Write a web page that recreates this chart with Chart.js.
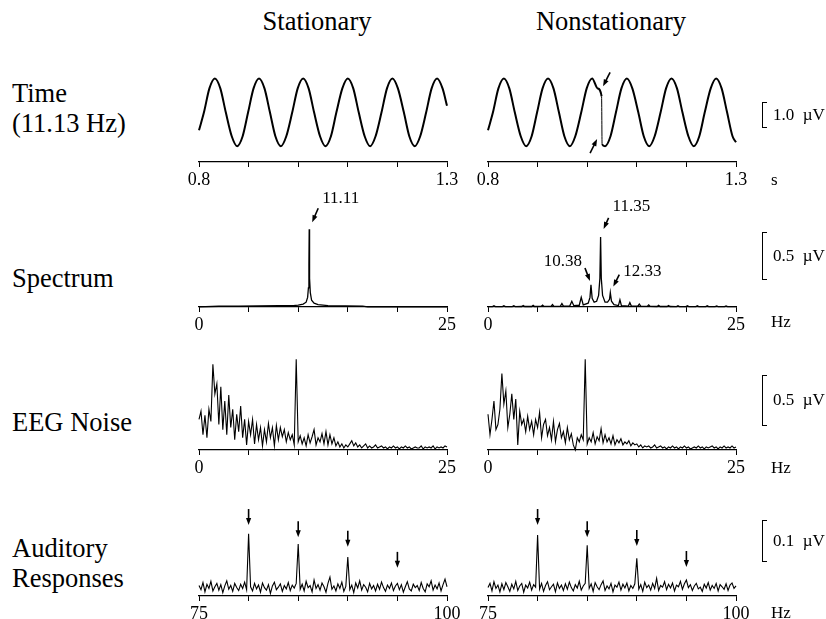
<!DOCTYPE html>
<html>
<head>
<meta charset="utf-8">
<script src="https://cdn.jsdelivr.net/npm/chart.js@4"></script>
<style>
body { margin:0; background:#fff; overflow:hidden; }
#fig { position:relative; width:826px; height:619px; font-family:'Liberation Serif','Times New Roman',serif; color:#000; }
#fig canvas { position:absolute; }
.lbl { position:absolute; left:12px; font-size:26.5px; line-height:30px; white-space:nowrap; }
.head { position:absolute; top:6px; font-size:26.5px; line-height:30px; transform:translateX(-50%); white-space:nowrap; }
.unit { position:absolute; left:771px; font-size:17px; line-height:20px; white-space:nowrap; }
.bar { position:absolute; left:762px; width:5px; box-sizing:border-box; border:1.3px solid #000; border-right:none; }
.sv { position:absolute; left:773px; font-size:17px; line-height:20px; white-space:nowrap; }
</style>
</head>
<body>
<div id="fig">
  <div class="head" style="left:317px">Stationary</div>
  <div class="head" style="left:611px">Nonstationary</div>

  <div class="lbl" style="top:78px">Time<br>(11.13 Hz)</div>
  <div class="lbl" style="top:263px">Spectrum</div>
  <div class="lbl" style="top:407px">EEG Noise</div>
  <div class="lbl" style="top:533px">Auditory<br>Responses</div>

  <canvas id="timeS" width="308" height="128" style="left:169px;top:62px"></canvas>
  <canvas id="timeN" width="308" height="128" style="left:458px;top:62px"></canvas>
  <canvas id="specS" width="308" height="150" style="left:169px;top:185px"></canvas>
  <canvas id="specN" width="308" height="150" style="left:458px;top:185px"></canvas>
  <canvas id="eegS" width="308" height="138" style="left:169px;top:340px"></canvas>
  <canvas id="eegN" width="308" height="138" style="left:458px;top:340px"></canvas>
  <canvas id="audS" width="308" height="127" style="left:169px;top:492px"></canvas>
  <canvas id="audN" width="308" height="127" style="left:458px;top:492px"></canvas>

  <div class="bar" style="top:102px;height:26px"></div>
  <div class="sv" style="top:105px">1.0&nbsp;&nbsp;µV</div>
  <div class="unit" style="top:170px">s</div>

  <div class="bar" style="top:232px;height:48px"></div>
  <div class="sv" style="top:246px">0.5&nbsp;&nbsp;µV</div>
  <div class="unit" style="top:312px">Hz</div>

  <div class="bar" style="top:375px;height:51px"></div>
  <div class="sv" style="top:390px">0.5&nbsp;&nbsp;µV</div>
  <div class="unit" style="top:458px">Hz</div>

  <div class="bar" style="top:520px;height:42px"></div>
  <div class="sv" style="top:531px">0.1&nbsp;&nbsp;µV</div>
  <div class="unit" style="top:603px">Hz</div>
</div>
<script>
// ---- time domain, 11.13 Hz tone (s, µV) ----
const timeStatT = [0.800, 0.810, 0.821, 0.832, 0.843, 0.854, 0.866, 0.877, 0.888, 0.899,
  0.910, 0.921, 0.932, 0.943, 0.954, 0.965, 0.976, 0.988, 0.999, 1.010,
  1.021, 1.032, 1.044, 1.055, 1.066, 1.077, 1.089, 1.100, 1.111, 1.122,
  1.134, 1.145, 1.156, 1.168, 1.179, 1.190, 1.201, 1.213, 1.224, 1.235,
  1.246, 1.258, 1.269, 1.280, 1.291, 1.300];
const timeStatV = [-0.69, 0, 0.92, 1.3, 0.92, 0, -0.92, -1.3, -0.92, 0,
  0.92, 1.3, 0.92, 0, -0.92, -1.3, -0.92, 0, 0.92, 1.3,
  0.92, 0, -0.92, -1.3, -0.92, 0, 0.92, 1.3, 0.92, 0,
  -0.92, -1.3, -0.92, 0, 0.92, 1.3, 0.92, 0, -0.92, -1.3,
  -0.92, 0, 0.92, 1.3, 0.92, 0.25];
const timeNonT = [0.800, 0.810, 0.821, 0.832, 0.843, 0.854, 0.866, 0.877, 0.888, 0.899,
  0.910, 0.921, 0.932, 0.943, 0.954, 0.965, 0.976, 0.988, 0.999, 1.010,
  1.021, 1.029, 1.030, 1.036, 1.047, 1.058, 1.069, 1.080, 1.091, 1.103,
  1.114, 1.125, 1.136, 1.148, 1.159, 1.170, 1.181, 1.192, 1.204, 1.215,
  1.226, 1.237, 1.249, 1.260, 1.271, 1.282, 1.293, 1.300];
const timeNonV = [-0.69, 0, 0.92, 1.3, 0.92, 0, -0.92, -1.3, -0.92, 0,
  0.92, 1.3, 0.92, 0, -0.92, -1.3, -0.92, 0, 0.92, 1.3,
  0.92, 0.62, -1.22, -1.3, -0.92, 0, 0.92, 1.3, 0.92, 0,
  -0.92, -1.3, -0.92, 0, 0.92, 1.3, 0.92, 0, -0.92, -1.3,
  -0.92, 0, 0.92, 1.3, 0.92, 0, -0.92, -1.15];
const jumpAt = 1.029; // phase jump of the nonstationary tone

// ---- spectra (Hz, µV) ----
const specStatF = [0, 2, 4, 6, 8, 9.5, 10.0, 10.5, 10.8, 10.95, 11.03, 11.08, 11.11,
  11.13, 11.16, 11.22, 11.35, 11.6, 12.0, 13.0, 16.5, 17.0, 25];
const specStatA = [0.002, 0.008, 0.01, 0.012, 0.013, 0.015, 0.02, 0.03, 0.05, 0.1, 0.2, 0.45, 0.81,
  0.54, 0.3, 0.15, 0.07, 0.04, 0.025, 0.015, 0.01, 0.002, 0.002];

const specNonF = [0, 0.45, 0.6, 0.75, 1.45, 1.6, 1.75, 2.45, 2.6, 2.75,
  3.4, 3.55, 3.7, 4.4, 4.55, 4.7, 5.35, 5.5, 5.65, 6.35, 6.5, 6.65,
  7.3, 7.45, 7.6, 8.25, 8.45, 8.65, 9.2, 9.4, 9.6,
  10.1, 10.28, 10.38, 10.5, 10.7, 10.95, 11.15, 11.28, 11.35, 11.42, 11.55,
  11.8, 12.05, 12.25, 12.33, 12.45, 12.7,
  13.15, 13.3, 13.45, 14.15, 14.3, 14.45, 15.1, 15.25, 15.4, 16.05, 16.2, 16.35,
  17.05, 17.2, 17.35, 18.05, 18.2, 18.35, 19.0, 19.15, 19.3, 19.95, 20.1, 20.25,
  20.95, 21.1, 21.25, 21.95, 22.1, 22.25, 22.9, 23.05, 23.2, 23.85, 24.0, 24.15, 25];
const specNonA = [0.003, 0.004, 0.012, 0.004, 0.004, 0.012, 0.004, 0.004, 0.014, 0.004,
  0.005, 0.015, 0.005, 0.005, 0.017, 0.005, 0.006, 0.02, 0.006, 0.007, 0.025, 0.007,
  0.009, 0.035, 0.009, 0.012, 0.06, 0.014, 0.018, 0.1, 0.022,
  0.04, 0.1, 0.23, 0.09, 0.05, 0.06, 0.12, 0.3, 0.73, 0.3, 0.12,
  0.05, 0.05, 0.08, 0.15, 0.06, 0.025,
  0.015, 0.075, 0.015, 0.01, 0.045, 0.01, 0.008, 0.03, 0.008, 0.006, 0.022, 0.006,
  0.005, 0.018, 0.005, 0.005, 0.016, 0.005, 0.004, 0.014, 0.004, 0.004, 0.013, 0.004,
  0.004, 0.012, 0.004, 0.004, 0.012, 0.004, 0.004, 0.011, 0.004, 0.004, 0.011, 0.004, 0.003];

// ---- EEG noise, 0 to 25 Hz every 0.2 Hz (µV) ----
const eegStart = 0, eegStep = 0.2;
const eegStat = [0.30, 0.38, 0.15, 0.34, 0.12, 0.40,
  0.28, 0.84, 0.55, 0.65, 0.25,
  0.62, 0.20, 0.48, 0.15, 0.54,
  0.22, 0.40, 0.10, 0.35, 0.18,
  0.43, 0.12, 0.30, 0.05, 0.28,
  0.15, 0.30, 0.06, 0.25, 0.10,
  0.22, 0.04, 0.20, 0.08, 0.26,
  0.12, 0.22, 0.04, 0.24, 0.10,
  0.22, 0.13, 0.20, 0.08, 0.17,
  0.10, 0.15, 0.05, 0.89, 0.08,
  0.14, 0.06, 0.12, 0.04, 0.15,
  0.07, 0.13, 0.20, 0.05, 0.12,
  0.08, 0.16, 0.06, 0.18, 0.05,
  0.15, 0.06, 0.12, 0.04, 0.08,
  0.03, 0.06, 0.02, 0.05, 0.03,
  0.06, 0.09, 0.04, 0.07, 0.03,
  0.05, 0.02, 0.04, 0.06, 0.02,
  0.04, 0.02, 0.03, 0.05, 0.02,
  0.03, 0.04, 0.02, 0.03, 0.01,
  0.03, 0.02, 0.04, 0.02, 0.03,
  0.01, 0.03, 0.02, 0.04, 0.02,
  0.03, 0.01, 0.02, 0.03, 0.02,
  0.02, 0.04, 0.01, 0.03, 0.02,
  0.03, 0.02, 0.04, 0.01, 0.03,
  0.02, 0.03, 0.02, 0.04, 0.03];
const eegNon = [0.35, 0.15, 0.30, 0.48, 0.20, 0.25,
  0.40, 0.75, 0.45, 0.58, 0.22,
  0.35, 0.55, 0.30, 0.50, 0.05,
  0.38, 0.25, 0.30, 0.18, 0.33,
  0.20, 0.28, 0.15, 0.30, 0.22,
  0.37, 0.12, 0.25, 0.30, 0.14,
  0.22, 0.10, 0.28, 0.08, 0.20,
  0.26, 0.12, 0.18, 0.07, 0.22,
  0.10, 0.16, 0.05, 0.00, 0.12,
  0.08, 0.15, 0.10, 0.89, 0.06,
  0.12, 0.08, 0.17, 0.06, 0.13,
  0.09, 0.21, 0.07, 0.15, 0.08,
  0.12, 0.06, 0.14, 0.05, 0.10,
  0.07, 0.11, 0.05, 0.08, 0.06,
  0.09, 0.04, 0.07, 0.05, 0.06,
  0.03, 0.05, 0.02, 0.04, 0.03,
  0.04, 0.02, 0.03, 0.05, 0.02,
  0.03, 0.04, 0.02, 0.03, 0.01,
  0.03, 0.02, 0.04, 0.02, 0.03,
  0.01, 0.03, 0.02, 0.04, 0.02,
  0.03, 0.01, 0.02, 0.03, 0.02,
  0.04, 0.02, 0.03, 0.01, 0.03,
  0.02, 0.03, 0.04, 0.02, 0.03,
  0.01, 0.03, 0.02, 0.04, 0.02,
  0.03, 0.02, 0.04, 0.02, 0.03];

// ---- auditory responses, 75 to 100 Hz every 0.2 Hz (µV) ----
const audStart = 75, audStep = 0.2;
const audStat = [0.025, 0.015, 0.032, 0.010, 0.028, 0.018, 0.035, 0.012, 0.022, 0.030,
  0.014, 0.027, 0.008, 0.024, 0.036, 0.016, 0.025, 0.011, 0.030, 0.020,
  0.013, 0.028, 0.018, 0.033, 0.015, 0.148, 0.022, 0.012, 0.030, 0.017,
  0.026, 0.009, 0.031, 0.020, 0.014, 0.027, 0.006, 0.024, 0.033, 0.015,
  0.021, 0.029, 0.011, 0.025, 0.017, 0.032, 0.013, 0.026, 0.019, 0.030,
  0.124, 0.016, 0.028, 0.012, 0.035, 0.020, 0.025, 0.010, 0.038, 0.018,
  0.027, 0.014, 0.031, 0.022, 0.009, 0.030, 0.045, 0.016, 0.024, 0.012,
  0.029, 0.018, 0.033, 0.011, 0.023, 0.093, 0.015, 0.026, 0.008, 0.031,
  0.019, 0.036, 0.014, 0.027, 0.021, 0.010, 0.030, 0.017, 0.025, 0.012,
  0.028, 0.016, 0.033, 0.020, 0.011, 0.026, 0.018, 0.031, 0.013, 0.024,
  0.030, 0.015, 0.027, 0.009, 0.022, 0.034, 0.017, 0.012, 0.028, 0.020,
  0.025, 0.013, 0.032, 0.018, 0.010, 0.029, 0.022, 0.036, 0.014, 0.026,
  0.017, 0.031, 0.012, 0.027, 0.040, 0.022];
const audNon = [0.020, 0.030, 0.012, 0.034, 0.018, 0.026, 0.010, 0.029, 0.015, 0.032,
  0.022, 0.011, 0.028, 0.017, 0.035, 0.013, 0.024, 0.030, 0.009, 0.026,
  0.019, 0.033, 0.014, 0.027, 0.021, 0.145, 0.016, 0.030, 0.011, 0.025,
  0.034, 0.015, 0.022, 0.028, 0.010, 0.031, 0.018, 0.026, 0.013, 0.029,
  0.016, 0.033, 0.020, 0.012, 0.027, 0.019, 0.035, 0.014, 0.024, 0.030,
  0.121, 0.018, 0.029, 0.011, 0.032, 0.022, 0.015, 0.027, 0.036, 0.013,
  0.024, 0.017, 0.030, 0.010, 0.026, 0.021, 0.033, 0.014, 0.028, 0.019,
  0.031, 0.012, 0.025, 0.018, 0.029, 0.090, 0.016, 0.027, 0.011, 0.033,
  0.020, 0.026, 0.014, 0.030, 0.018, 0.042, 0.013, 0.025, 0.021, 0.034,
  0.015, 0.028, 0.019, 0.031, 0.012, 0.026, 0.022, 0.035, 0.016, 0.029,
  0.038, 0.020, 0.027, 0.013, 0.024, 0.030, 0.017, 0.021, 0.011, 0.028,
  0.019, 0.032, 0.014, 0.025, 0.018, 0.030, 0.012, 0.027, 0.022, 0.016,
  0.029, 0.013, 0.026, 0.031, 0.018, 0.024];

// tick labels shown at the two ends of each axis
const timeTicks = ['0.8', '1.3'];
const specTicks = ['0', '25'];
const audTicks = ['75', '100'];

Chart.defaults.font.family = "'Liberation Serif', 'Times New Roman', serif";
Chart.defaults.color = '#000';

function pairs(xs, ys) { return xs.map((x, i) => ({ x: x, y: ys[i] })); }
function grid(start, step, ys) { return ys.map((y, i) => ({ x: start + i * step, y: y })); }

function drawArrow(ctx, x1, y1, x2, y2) {
  const a = Math.atan2(y2 - y1, x2 - x1), hl = 7, hw = 2.6;
  const c = Math.cos(a), s = Math.sin(a);
  ctx.beginPath();
  ctx.moveTo(x1, y1);
  ctx.lineTo(x2 - hl * c * 0.7, y2 - hl * s * 0.7);
  ctx.lineWidth = 1.6;
  ctx.stroke();
  ctx.beginPath();
  ctx.moveTo(x2, y2);
  ctx.lineTo(x2 - hl * c + hw * s, y2 - hl * s - hw * c);
  ctx.lineTo(x2 - hl * c - hw * s, y2 - hl * s + hw * c);
  ctx.closePath();
  ctx.fill();
}

// arrows and peak labels, placed at data points of the chart
function marks(arrows, notes) {
  return {
    id: 'marks',
    afterDatasetsDraw(chart) {
      const ctx = chart.ctx, xs = chart.scales.x, ys = chart.scales.y;
      ctx.save();
      ctx.fillStyle = '#000';
      ctx.strokeStyle = '#000';
      arrows.forEach(a => {
        const px = xs.getPixelForValue(a.x) + (a.ox || 0);
        const py = ys.getPixelForValue(a.y) + (a.oy || 0);
        drawArrow(ctx, px + a.dx, py + a.dy, px, py);
      });
      ctx.font = "17px 'Liberation Serif', 'Times New Roman', serif";
      ctx.textBaseline = 'middle';
      notes.forEach(n => {
        ctx.textAlign = n.align || 'left';
        ctx.fillText(n.text, xs.getPixelForValue(n.x) + n.ox, ys.getPixelForValue(n.y) + n.oy);
      });
      ctx.restore();
    }
  };
}

function panel(id, o) {
  return new Chart(document.getElementById(id), {
    type: 'line',
    data: {
      datasets: [{
        data: o.points,
        borderColor: '#000',
        borderWidth: o.lw,
        pointRadius: 0,
        tension: o.smooth ? 0.4 : 0,
        cubicInterpolationMode: o.smooth ? 'monotone' : 'default',
        fill: false,
        clip: false,
        segment: o.thinAt ? { borderWidth: c => c.p0.parsed.x === o.thinAt ? 1 : o.lw } : undefined
      }]
    },
    options: {
      responsive: false,
      animation: false,
      events: [],
      layout: { padding: { left: 30, right: 30, top: o.padTop, bottom: 0 } },
      plugins: { legend: { display: false }, tooltip: { enabled: false } },
      scales: {
        x: {
          type: 'linear', min: o.xmin, max: o.xmax,
          afterFit: s => { s.height = o.axisH; },
          border: { color: '#000', width: 1.2 },
          grid: { drawOnChartArea: false, drawTicks: true, tickLength: 5, color: '#000', lineWidth: 1 },
          ticks: {
            stepSize: o.step, autoSkip: false, maxRotation: 0, padding: 2, color: '#000',
            font: { size: 18 },
            callback: (v, i, t) => i === 0 ? o.ends[0] : (i === t.length - 1 ? o.ends[1] : '')
          }
        },
        y: { display: false, min: o.ymin, max: o.ymax }
      }
    },
    plugins: [marks(o.arrows || [], o.notes || [])]
  });
}

// time panels: 26 px per µV
const timeY = { ymin: -1.91, ymax: 1.628 };
panel('timeS', Object.assign({ points: pairs(timeStatT, timeStatV), lw: 2, smooth: true, padTop: 8, axisH: 28,
  xmin: 0.8, xmax: 1.3, step: 0.1, ends: timeTicks }, timeY));
panel('timeN', Object.assign({ points: pairs(timeNonT, timeNonV), lw: 2, smooth: true, padTop: 8, axisH: 28,
  xmin: 0.8, xmax: 1.3, step: 0.1, ends: timeTicks, thinAt: jumpAt,
  arrows: [ { x: 1.030, y: 1.0, ox: 1, oy: 0, dx: 7, dy: -14 },
            { x: 1.030, y: -1.03, ox: -5, oy: 0, dx: -7, dy: 14 } ] }, timeY));

// spectrum panels: 96 px per µV
panel('specS', { points: pairs(specStatF, specStatA), lw: 1.3, padTop: 25, axisH: 28,
  xmin: 0, xmax: 25, step: 5, ends: specTicks, ymin: 0, ymax: 1.0104,
  arrows: [ { x: 11.11, y: 0.81, ox: 3, oy: -7, dx: 6, dy: -14 } ],
  notes: [ { text: '11.11', x: 11.11, y: 0.81, ox: 13, oy: -31 } ] });
panel('specN', { points: pairs(specNonF, specNonA), lw: 1.3, padTop: 25, axisH: 28,
  xmin: 0, xmax: 25, step: 5, ends: specTicks, ymin: 0, ymax: 1.0104,
  arrows: [ { x: 11.35, y: 0.73, ox: 3, oy: -8, dx: 5, dy: -11 },
            { x: 10.38, y: 0.23, ox: -1, oy: -4, dx: -5, dy: -13 },
            { x: 12.33, y: 0.15, ox: 3, oy: -6, dx: 6, dy: -12 } ],
  notes: [ { text: '11.35', x: 11.35, y: 0.73, ox: 12, oy: -30 },
           { text: '10.38', x: 10.38, y: 0.23, ox: -9, oy: -23, align: 'right' },
           { text: '12.33', x: 12.33, y: 0.15, ox: 13, oy: -21 } ] });

// EEG noise panels: 102 px per µV
panel('eegS', { points: grid(eegStart, eegStep, eegStat), lw: 1.1, padTop: 12, axisH: 28,
  xmin: 0, xmax: 25, step: 5, ends: specTicks, ymin: 0, ymax: 0.9608 });
panel('eegN', { points: grid(eegStart, eegStep, eegNon), lw: 1.1, padTop: 12, axisH: 28,
  xmin: 0, xmax: 25, step: 5, ends: specTicks, ymin: 0, ymax: 0.9608 });

// auditory panels: 420 px per µV
const audArrowsS = [ { x: 80, y: 0.169, dx: 0, dy: -16 }, { x: 85, y: 0.140, dx: 0, dy: -16 },
                     { x: 90, y: 0.117, dx: 0, dy: -16 }, { x: 95, y: 0.067, dx: 0, dy: -16 } ];
const audArrowsN = [ { x: 80, y: 0.169, dx: 0, dy: -16 }, { x: 85, y: 0.140, dx: 0, dy: -16 },
                     { x: 90, y: 0.119, dx: 0, dy: -16 }, { x: 95, y: 0.069, dx: 0, dy: -16 } ];
panel('audS', { points: grid(audStart, audStep, audStat), lw: 1.1, padTop: 8, axisH: 23,
  xmin: 75, xmax: 100, step: 5, ends: audTicks, ymin: 0, ymax: 0.2286, arrows: audArrowsS });
panel('audN', { points: grid(audStart, audStep, audNon), lw: 1.1, padTop: 8, axisH: 23,
  xmin: 75, xmax: 100, step: 5, ends: audTicks, ymin: 0, ymax: 0.2286, arrows: audArrowsN });
</script>
</body>
</html>
